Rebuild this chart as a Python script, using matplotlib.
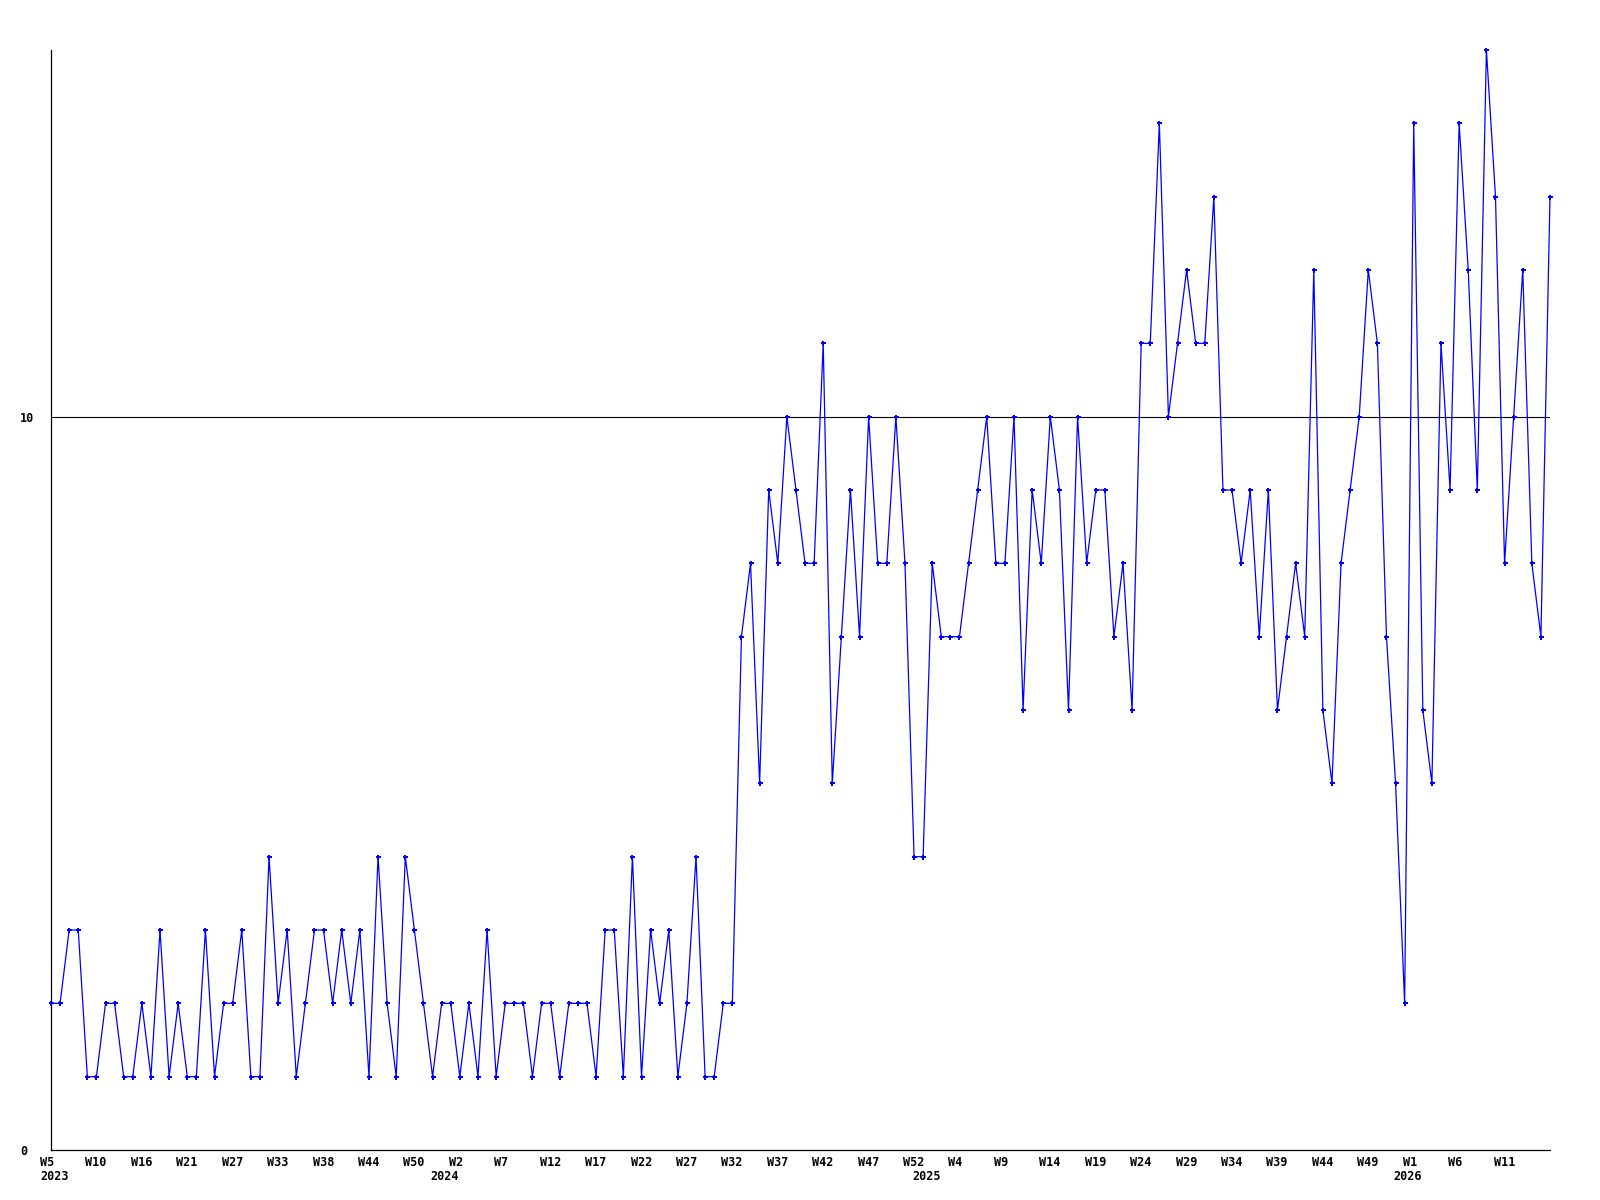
import numpy as np
import matplotlib
matplotlib.use("Agg")
import matplotlib.pyplot as plt
from matplotlib.transforms import ScaledTranslation

# ---------------------------
# Data (weekly counts)
# ---------------------------
values = [
    2, 2, 3, 3, 1, 1, 2, 2, 1, 1, 2, 1, 3, 1, 2, 1, 1, 3, 1, 2, 2, 3, 1, 1, 4, 2, 3,
    1, 2, 3, 3, 2, 3, 2, 3, 1, 4, 2, 1, 4, 3, 2, 1, 2, 2, 1, 2, 1, 3, 1, 2, 2, 2, 1,
    2, 2, 1, 2, 2, 2, 1, 3, 3, 1, 4, 1, 3, 2, 3, 1, 2, 4, 1, 1, 2, 2,
    7, 8, 5, 9, 8, 10, 9, 8, 8, 11, 5, 7, 9, 7, 10, 8, 8, 10, 8, 4,
    4, 8, 7, 7, 7, 8, 9, 10, 8, 8, 10, 6, 9, 8, 10, 9, 6, 10, 8, 9, 9,
    7, 8, 6, 11, 11, 14, 10, 11, 12, 11, 11, 13, 9, 9, 8, 9, 7, 9, 6, 7, 8,
    7, 12, 6, 5, 8, 9, 10, 12, 11, 7, 5, 2, 14, 6, 5, 11, 9, 14, 12, 9, 15, 13, 8, 10, 12, 8, 7, 13,
]

week_labels = [
    "W5", "W10", "W16", "W21", "W27", "W33", "W38", "W44", "W50",
    "W2", "W7", "W12", "W17", "W22", "W27", "W32", "W37", "W42", "W47", "W52",
    "W4", "W9", "W14", "W19", "W24", "W29", "W34", "W39", "W44", "W49",
    "W1", "W6", "W11",
]
week_positions = list(range(0, 5 * len(week_labels), 5))

year_labels = ["2023", "2024", "2025", "2026"]
year_positions = [0, 43, 96, 149]

y_ticks = [0, 10]
ref_level = 10

# ---------------------------
# Plot
# ---------------------------
DPI = 100
fig = plt.figure(figsize=(16, 12), dpi=DPI)
ax = fig.add_axes([51 / 1600, 50 / 1200, 1499 / 1600, 1100 / 1200])

x = np.arange(len(values))
ax.plot(x, values, color="#0000ff", lw=0.9, marker="P", markersize=3.6,
        markeredgewidth=0, clip_on=False, zorder=3)
ax.axhline(ref_level, color="black", lw=0.8, zorder=2)

ax.set_xlim(0, len(values) - 1)
ax.set_ylim(0, 15)

for s in ["top", "right"]:
    ax.spines[s].set_visible(False)
for s in ["left", "bottom"]:
    ax.spines[s].set_linewidth(0.9)
    ax.spines[s].set_color("black")

font = dict(family="DejaVu Sans Mono", weight="bold", size=8.5)

ax.set_xticks(week_positions)
ax.set_xticklabels(week_labels, ha="left", **font)
ax.tick_params(axis="x", length=0, pad=4.5)
for lbl in ax.get_xticklabels():
    lbl.set_transform(lbl.get_transform() + ScaledTranslation(-11 / DPI, 0, fig.dpi_scale_trans))

ax.set_yticks(y_ticks)
ax.set_yticklabels([str(t) for t in y_ticks], ha="left", **font)
ax.tick_params(axis="y", length=0, pad=0)
for lbl in ax.get_yticklabels():
    lbl.set_transform(lbl.get_transform() + ScaledTranslation(-31 / DPI, 0, fig.dpi_scale_trans))

for pos, yr in zip(year_positions, year_labels):
    ax.annotate(yr, xy=(pos, 0), xycoords=("data", "axes fraction"),
                xytext=(-11, -26), textcoords="offset pixels",
                ha="left", va="center", **font)

fig.savefig("out.png", dpi=DPI, facecolor="white")
